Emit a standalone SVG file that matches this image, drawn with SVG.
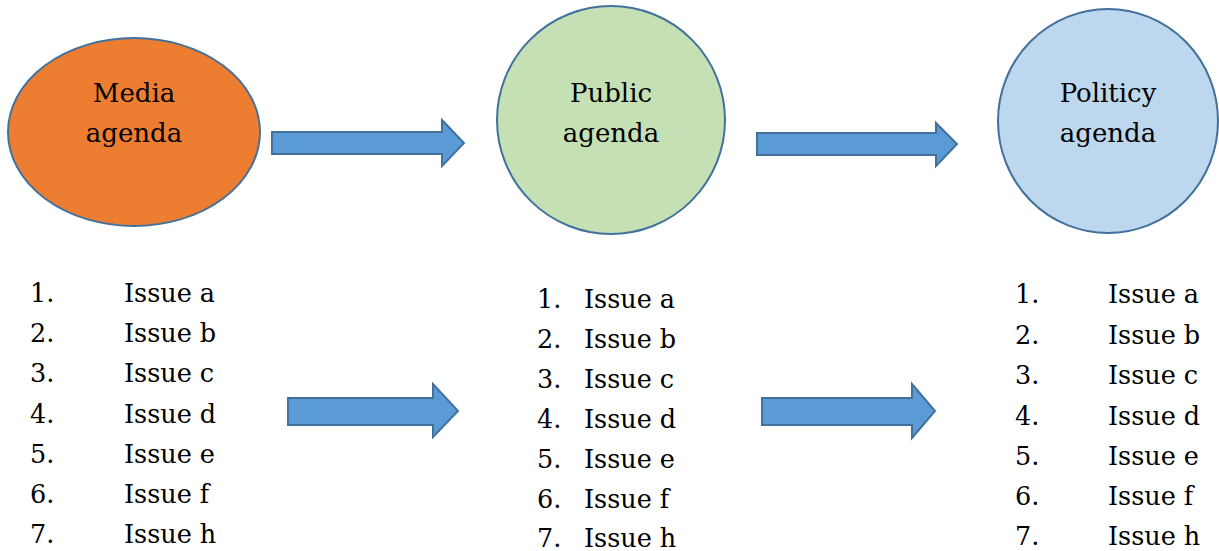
<svg xmlns="http://www.w3.org/2000/svg" width="1219" height="551" viewBox="0 0 1219 551">
<style>
.node{stroke:#41719C;stroke-width:2}
.lbl{font-family:"DejaVu Serif","Liberation Serif",serif;font-size:26px;fill:#000;text-anchor:middle}
.li{font-family:"DejaVu Serif","Liberation Serif",serif;font-size:25.5px;fill:#000}
.arr{fill:#5B9BD5;stroke:#41719C;stroke-width:2;stroke-linejoin:miter}
</style>
<rect width="1219" height="551" fill="#fff"/>
<g id="media">
<ellipse class="node" cx="134" cy="132" rx="126" ry="94" fill="#ED7D31"/>
<text class="lbl" x="134" y="102">Media</text>
<text class="lbl" x="134" y="142">agenda</text>
</g>
<g id="public">
<ellipse class="node" cx="611" cy="120" rx="114" ry="114" fill="#C5E0B4"/>
<text class="lbl" x="611" y="102">Public</text>
<text class="lbl" x="611" y="142">agenda</text>
</g>
<g id="policy">
<ellipse class="node" cx="1108" cy="121" rx="110" ry="112" fill="#BDD7EE"/>
<text class="lbl" x="1108" y="102">Politicy</text>
<text class="lbl" x="1108" y="142">agenda</text>
</g>
<g id="list-media" class="li">
<text x="30" y="302">1.</text><text x="124" y="302">Issue a</text>
<text x="30" y="342">2.</text><text x="124" y="342">Issue b</text>
<text x="30" y="382">3.</text><text x="124" y="382">Issue c</text>
<text x="30" y="423">4.</text><text x="124" y="423">Issue d</text>
<text x="30" y="463">5.</text><text x="124" y="463">Issue e</text>
<text x="30" y="503">6.</text><text x="124" y="503">Issue f</text>
<text x="30" y="543">7.</text><text x="124" y="543">Issue h</text>
</g>
<g id="list-public" class="li">
<text x="537" y="308">1.</text><text x="584" y="308">Issue a</text>
<text x="537" y="348">2.</text><text x="584" y="348">Issue b</text>
<text x="537" y="388">3.</text><text x="584" y="388">Issue c</text>
<text x="537" y="428">4.</text><text x="584" y="428">Issue d</text>
<text x="537" y="468">5.</text><text x="584" y="468">Issue e</text>
<text x="537" y="508">6.</text><text x="584" y="508">Issue f</text>
<text x="537" y="547">7.</text><text x="584" y="547">Issue h</text>
</g>
<g id="list-policy" class="li">
<text x="1015" y="303">1.</text><text x="1108" y="303">Issue a</text>
<text x="1015" y="344">2.</text><text x="1108" y="344">Issue b</text>
<text x="1015" y="384">3.</text><text x="1108" y="384">Issue c</text>
<text x="1015" y="425">4.</text><text x="1108" y="425">Issue d</text>
<text x="1015" y="465">5.</text><text x="1108" y="465">Issue e</text>
<text x="1015" y="505">6.</text><text x="1108" y="505">Issue f</text>
<text x="1015" y="545">7.</text><text x="1108" y="545">Issue h</text>
</g>
<g id="connectors">
<path class="arr" d="M272,132 H442 V120 L464,143 L442,166 V154 H272 Z"/>
<path class="arr" d="M757,133 H936 V123 L957,144 L936,166 V155 H757 Z"/>
<path class="arr" d="M288,398 H433 V384 L458,411 L433,437 V425 H288 Z"/>
<path class="arr" d="M762,398 H912 V384 L935,411 L912,438 V425 H762 Z"/>
</g>
</svg>
